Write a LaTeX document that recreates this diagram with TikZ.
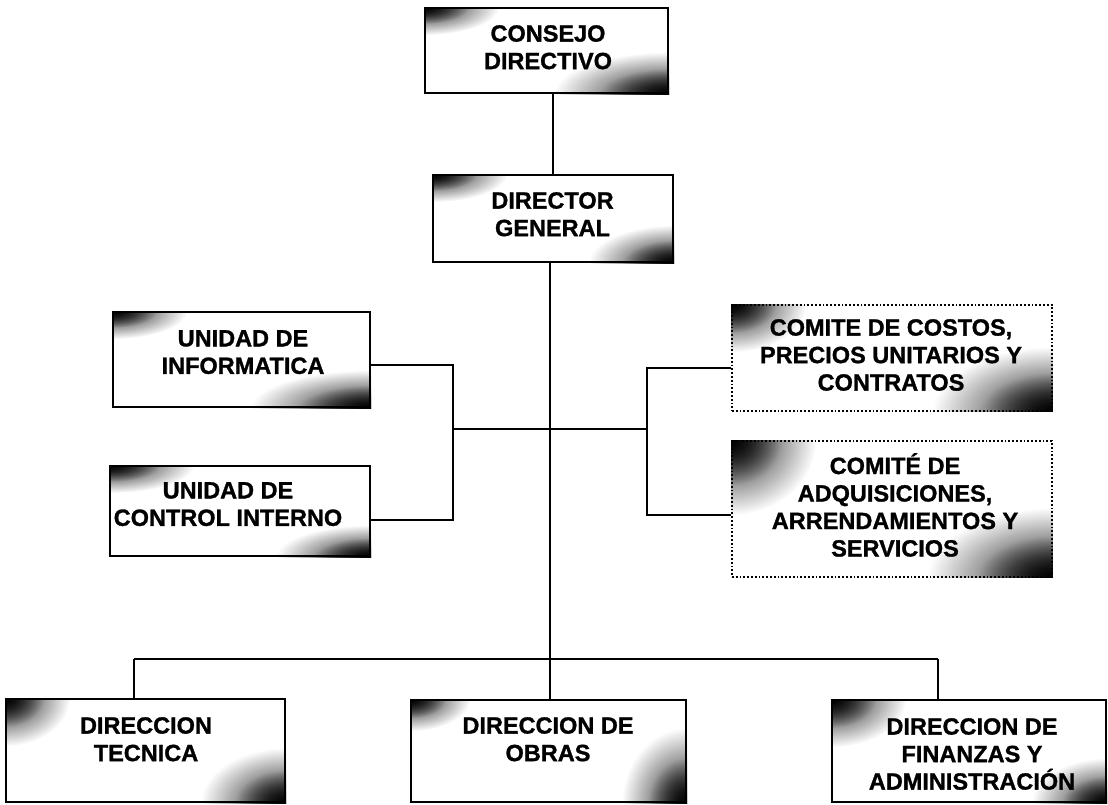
\documentclass[tikz,border=0pt]{standalone}
\usepackage{fontspec}
\setmainfont{Liberation Sans}[BoldFeatures={FakeBold=1.2}]
\usetikzlibrary{fadings}
\tikzfading[name=blob, inner color=transparent!0, outer color=transparent!100]
\newcommand{\smear}[5]{%
  \begin{scope}
    \clip (#1.north west) rectangle (#1.south east);
    \fill[black, path fading=blob, fill opacity=0.95] (#1.north west) ellipse [x radius=#2, y radius=#3];
    \fill[black, path fading=blob, fill opacity=0.9] (#1.north west) ellipse [x radius=0.6*#2, y radius=0.6*#3];
    \fill[black, path fading=blob, fill opacity=0.95] (#1.south east) ellipse [x radius=#4, y radius=#5];
    \fill[black, path fading=blob, fill opacity=0.9] (#1.south east) ellipse [x radius=0.6*#4, y radius=0.6*#5];
  \end{scope}}
\begin{document}
\begin{tikzpicture}[x=1pt,y=-1pt,
  box/.style={draw=black, line width=2pt, rectangle, inner sep=0pt},
  dotbox/.style={draw=black, line width=1.8pt, dotted, rectangle, inner sep=0pt},
  txt/.style={font=\bfseries\fontsize{23.5}{27.5}\selectfont, align=center, inner sep=0pt, anchor=north},
  link/.style={line width=1.1pt},
  trunk/.style={line width=1.6pt},
  busline/.style={line width=2pt},
]
\useasboundingbox (0,0) rectangle (1108,804);
\clip (0,0) rectangle (1108,804);

% boxes
\node[box, minimum width=243pt, minimum height=85pt] (cd) at (546.5,50.5) {};
\node[box, minimum width=240pt, minimum height=87pt] (dg) at (553,218.5) {};
\node[box, minimum width=257pt, minimum height=95pt] (ui) at (241.5,359.5) {};
\node[box, minimum width=260pt, minimum height=90pt] (uc) at (240,511) {};
\node[dotbox, minimum width=320pt, minimum height=106pt] (c1) at (892,358) {};
\node[dotbox, minimum width=320pt, minimum height=136pt] (c2) at (892,509) {};
\node[box, minimum width=279pt, minimum height=103pt] (dt) at (145.5,750.5) {};
\node[box, minimum width=275pt, minimum height=102pt] (do) at (548.5,751) {};
\node[box, minimum width=274pt, minimum height=102pt] (df) at (969,751) {};

% corner smudges
\smear{cd}{75}{28}{115}{42}
\smear{dg}{75}{28}{85}{38}
\smear{ui}{75}{28}{120}{38}
\smear{uc}{85}{28}{95}{32}
\smear{c1}{75}{48}{120}{65}
\smear{c2}{85}{75}{125}{70}
\smear{dt}{65}{48}{85}{55}
\smear{do}{60}{32}{65}{75}
\smear{df}{75}{48}{75}{45}

% connector points
\coordinate (hub) at (550,429);
\coordinate (lb) at (453,429);
\coordinate (rb) at (647,429);
\coordinate (bl) at (134,659);
\coordinate (br) at (938,659);

% connectors
\draw[link] (dg.north |- cd.south) -- (dg.north);
\draw[trunk] (hub |- dg.south) -- (hub |- do.north);
\draw[link] (lb) -- (rb);
\draw[link] ([yshift=-5.5pt]ui.east) -| (lb) |- ([yshift=-9pt]uc.east);
\draw[link] ([yshift=-10pt]c1.west) -| (rb) |- ([yshift=-6pt]c2.west);
\draw[busline] (bl) -- (br);
\draw[link] (bl) -- (bl |- dt.north);
\draw[link] (br) -- (br |- df.north);

% texts
\node[txt] (tcd) at (548,25) {CONSEJO\\DIRECTIVO};
\node[txt] (tdg) at (552.5,192) {DIRECTOR\\GENERAL};
\node[txt] (tui) at (243,330) {UNIDAD DE\\INFORMATICA};
\node[txt] (tuc) at (228,482) {UNIDAD DE\\CONTROL INTERNO};
\node[txt] (tc1) at (891,319) {COMITE DE COSTOS,\\PRECIOS UNITARIOS Y\\CONTRATOS};
\node[txt] (tc2) at (895,453) {COMITÉ DE\\ADQUISICIONES,\\ARRENDAMIENTOS Y\\SERVICIOS};
\node[txt] (tdt) at (146,717) {DIRECCION\\TECNICA};
\node[txt] (tdo) at (548,717) {DIRECCION DE\\OBRAS};
\node[txt] (tdf) at (972,718) {DIRECCION DE\\FINANZAS Y\\ADMINISTRACIÓN};
\end{tikzpicture}
\end{document}
